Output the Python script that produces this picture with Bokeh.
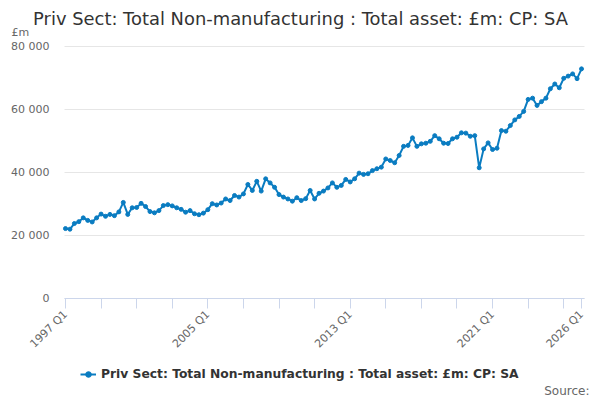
import math
from bokeh.plotting import figure
from bokeh.models import Range1d, FixedTicker, Grid, Label, Legend, LegendItem, ColumnDataSource
from bokeh.embed import file_html
from bokeh.resources import INLINE

# ---- data ----
start_year = 1997
values = [
    22200, 22000, 23800, 24400, 25600, 24800, 24300, 25600,   # 1997-1998
    26800, 26100, 26700, 26300, 27500, 30500, 26700, 28800,   # 1999-2000
    28900, 30200, 29200, 27600, 27200, 27900, 29500, 29800,   # 2001-2002
    29400, 28800, 28300, 27400, 27900, 26900, 26600, 27100,   # 2003-2004
    28200, 30100, 29700, 30300, 31600, 31100, 32700, 32200,   # 2005-2006
    33200, 36200, 34300, 37200, 34100, 38000, 36700, 35300,   # 2007-2008
    33000, 32200, 31600, 30900, 32000, 31100, 31700, 34300,   # 2009-2010
    31600, 33400, 34100, 35100, 36700, 35300, 35900, 37800,   # 2011-2012
    37000, 38000, 39800, 39400, 39600, 40600, 41200, 41700,   # 2013-2014
    44300, 43800, 43100, 45400, 48300, 48600, 51000, 48300,   # 2015-2016
    49100, 49300, 49900, 51700, 50700, 49300, 49200, 50700,   # 2017-2018
    51200, 52600, 52500, 51500, 51700, 41500, 47500, 49400,   # 2019-2020
    47300, 47700, 53300, 53100, 54900, 56700, 57800, 59400,   # 2021-2022
    63200, 63600, 61300, 62500, 63600, 66600, 68100, 66900,   # 2023-2024
    69900, 70600, 71300, 69800,                               # 2025
    72900,                                                    # 2026 Q1
]
quarters = [f"{start_year + i // 4} Q{i % 4 + 1}" for i in range(len(values))]
labelled_quarters = ["1997 Q1", "2005 Q1", "2013 Q1", "2021 Q1", "2026 Q1"]
y_ticks = [0, 20000, 40000, 60000, 80000]
y_tick_labels = ["0", "20 000", "40 000", "60 000", "80 000"]

series_name = "Priv Sect: Total Non-manufacturing : Total asset: £m: CP: SA"
title_text = "Priv Sect: Total Non-manufacturing : Total asset: £m: CP: SA"
unit_text = "£m"
source_text = "Source:"

# ---- layout constants (page px); the frame fills the whole canvas ----
W, H = 600, 400
PLOT_L, PLOT_R, PLOT_T, PLOT_B = 64, 584, 46, 298   # visible plotting area
X_AT_L, X_AT_R = -0.22, 116.67
Y_AT_T, Y_AT_B = 80000, 0
xs = (X_AT_R - X_AT_L) / (PLOT_R - PLOT_L)
ys = (Y_AT_T - Y_AT_B) / (PLOT_B - PLOT_T)
X_START, X_END = X_AT_L - PLOT_L * xs, X_AT_R + (W - PLOT_R) * xs
Y_START, Y_END = Y_AT_B - (H - PLOT_B) * ys, Y_AT_T + PLOT_T * ys

def sx(px):
    return px

def sy(py):
    return H - py

FONT = "DejaVu Sans"
LINE_COLOR = "#0a7cc1"
GRID_COLOR = "#e6e6e6"

p = figure(width=W, height=H, output_backend="svg", toolbar_location=None, title=None,
           x_range=Range1d(X_START, X_END), y_range=Range1d(Y_START, Y_END),
           min_border_left=0, min_border_right=0, min_border_top=0, min_border_bottom=0,
           background_fill_color="white", border_fill_color="white")
p.outline_line_color = None

# x axis, pinned at y = 0
tick_idx = sorted(set(list(range(0, len(values), 8)) + [len(values) - 1]))
p.xaxis.fixed_location = 0
p.xaxis.bounds = (X_AT_L, X_AT_R)
p.xaxis.ticker = FixedTicker(ticks=tick_idx, minor_ticks=[])
p.xaxis.major_label_overrides = {i: (quarters[i] if quarters[i] in labelled_quarters else "") for i in tick_idx}
p.xaxis.major_label_orientation = math.pi / 4
p.xaxis.axis_line_color = "#ccd6eb"
p.xaxis.major_tick_line_color = "#ccd6eb"
p.xaxis.major_tick_out = 10
p.xaxis.major_tick_in = 0
p.xaxis.minor_tick_line_color = None
p.xaxis.major_label_text_font = FONT
p.xaxis.major_label_text_font_size = "11px"
p.xaxis.major_label_text_color = "#666666"
p.xaxis.major_label_standoff = 4
p.xgrid.grid_line_color = None

# y axis, pinned at the left edge of the plotting area
p.yaxis.fixed_location = X_AT_L
p.yaxis.bounds = (Y_AT_B, Y_AT_T)
p.yaxis.ticker = FixedTicker(ticks=y_ticks, minor_ticks=[])
p.yaxis.major_label_overrides = {t: l for t, l in zip(y_ticks, y_tick_labels)}
p.yaxis.axis_line_color = None
p.yaxis.major_tick_line_color = None
p.yaxis.minor_tick_line_color = None
p.yaxis.major_tick_out = 0
p.yaxis.major_tick_in = 0
p.yaxis.major_label_standoff = 15
p.yaxis.major_label_text_font = FONT
p.yaxis.major_label_text_font_size = "11px"
p.yaxis.major_label_text_color = "#666666"

if "cross_bounds" in Grid.properties():
    p.ygrid.grid_line_color = GRID_COLOR
    p.ygrid.grid_line_width = 1
    p.ygrid.bounds = (Y_AT_B, Y_AT_T)
    p.ygrid.cross_bounds = (X_AT_L, X_AT_R)
else:
    p.ygrid.grid_line_color = None
    gl = [t for t in y_ticks if t > 0]
    p.segment(x0=[X_AT_L] * len(gl), x1=[X_AT_R] * len(gl), y0=gl, y1=gl,
              line_color=GRID_COLOR, line_width=1)

src = ColumnDataSource(dict(x=list(range(len(values))), y=values, q=quarters))
ln = p.line("x", "y", source=src, line_color=LINE_COLOR, line_width=2)
sc = p.scatter("x", "y", source=src, size=4, marker="circle",
               fill_color=LINE_COLOR, line_color=LINE_COLOR)

# title and unit
p.add_layout(Label(x=sx(300), y=sy(18), x_units="screen", y_units="screen",
                   text=title_text, text_align="center", text_baseline="middle",
                   text_font=FONT, text_font_size="17.9px", text_color="#333333"))
p.add_layout(Label(x=sx(11), y=sy(32), x_units="screen", y_units="screen",
                   text=unit_text, text_align="left", text_baseline="middle",
                   text_font=FONT, text_font_size="11px", text_color="#666666"))

# legend
legend = Legend(items=[LegendItem(label=series_name, renderers=[ln, sc])],
                location=(sx(80), sy(381)), orientation="horizontal",
                padding=0, margin=0, border_line_color=None, background_fill_alpha=0,
                glyph_width=16, glyph_height=14, label_height=14, label_standoff=5,
                label_text_font=FONT, label_text_font_size="12.3px",
                label_text_font_style="bold", label_text_color="#333333")
p.add_layout(legend, "center")

# source note
p.add_layout(Label(x=sx(589), y=sy(390), x_units="screen", y_units="screen",
                   text=source_text, text_align="right", text_baseline="middle",
                   text_font=FONT, text_font_size="12px", text_color="#666666"))

open("out.html", "w").write(file_html(p, INLINE))
